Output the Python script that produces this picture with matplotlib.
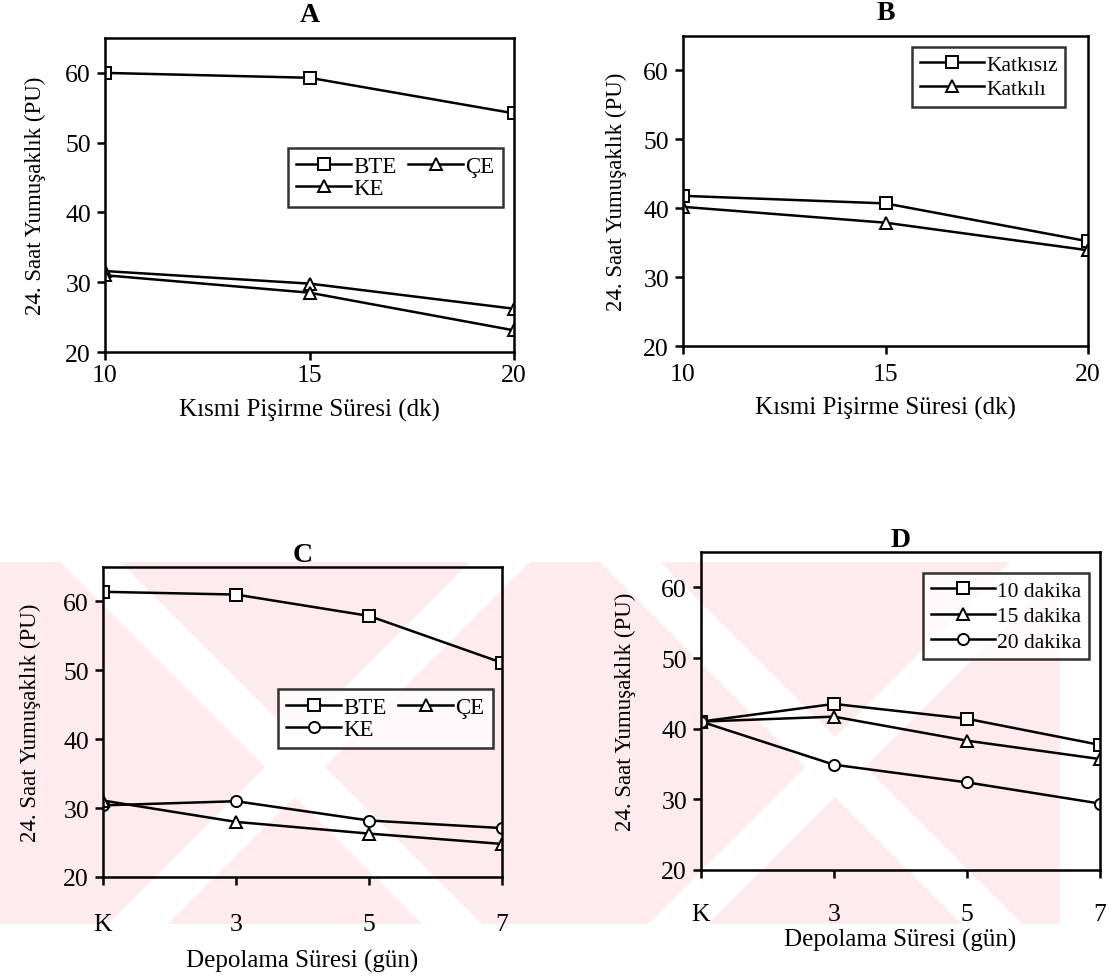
import matplotlib
matplotlib.use("Agg")
import matplotlib.pyplot as plt
from matplotlib.patches import Polygon

plt.rcParams['font.family'] = ['Liberation Serif', 'DejaVu Serif']

# ---- data ----
pisirme = [10, 15, 20]
a_bte = [60.0, 59.3, 54.2]
a_ce = [31.0, 28.5, 23.1]
a_ke = [31.6, 29.8, 26.2]

b_katkisiz = [41.8, 40.7, 35.2]
b_katkili = [40.2, 37.9, 33.9]

depolama = ['K', '3', '5', '7']
c_bte = [61.4, 61.0, 57.9, 51.1]
c_ce = [31.1, 28.0, 26.3, 24.8]
c_ke = [30.4, 31.0, 28.2, 27.1]

d_10 = [41.0, 43.5, 41.4, 37.7]
d_15 = [41.0, 41.7, 38.3, 35.7]
d_20 = [41.0, 34.9, 32.4, 29.4]

ylabel = '24. Saat Yumuşaklık (PU)'
xlabel_ab = 'Kısmi Pişirme Süresi (dk)'
xlabel_cd = 'Depolama Süresi (gün)'

W, H = 1119, 978
fig = plt.figure(figsize=(W / 100, H / 100), dpi=100)


def fr(left, top, right, bottom):
    # pixel box -> figure fraction rect
    return [left / W, 1 - bottom / H, (right - left) / W, (bottom - top) / H]


# faint pink watermark behind the lower row
wm = fig.add_axes(fr(0, 563, 1060, 925), zorder=0)
wm.set_xlim(0, 1060)
wm.set_ylim(925, 563)
wm.axis('off')
wm.add_patch(Polygon([(0, 563), (1060, 563), (1060, 925), (0, 925)],
                     closed=True, facecolor='#fdebee', edgecolor='none'))
for x0 in [60, 600]:
    wm.add_patch(Polygon([(x0, 563), (x0 + 60, 563), (x0 + 60 + 362, 925), (x0 + 362, 925)],
                         closed=True, facecolor='white', edgecolor='none'))
for x0 in [470, 1010]:
    wm.add_patch(Polygon([(x0, 563), (x0 + 60, 563), (x0 + 60 - 362, 925), (x0 - 362, 925)],
                         closed=True, facecolor='white', edgecolor='none'))

lw = 1.8
mk = dict(markersize=8, markerfacecolor='white', markeredgecolor='black', markeredgewidth=1.4)


def setup(ax, title, xlabel, title_pad, tick_pad, xlab_pad, ylab_pad):
    ax.patch.set_alpha(0)
    ax.set_ylim(20, 65)
    ax.set_yticks([20, 30, 40, 50, 60])
    for s in ax.spines.values():
        s.set_linewidth(1.8)
    ax.tick_params(direction='out', length=6, width=1.8, labelsize=18.5)
    ax.tick_params(axis='x', pad=tick_pad)
    ax.tick_params(axis='y', pad=4)
    ax.set_title(title, fontsize=20, fontweight='bold', pad=title_pad)
    ax.set_xlabel(xlabel, fontsize=18, labelpad=xlab_pad)
    ax.set_ylabel(ylabel, fontsize=16.5, labelpad=ylab_pad)


def legend(ax, handles, labels, left, top, ncol=1, hl=2.8, ls=0.15, fs=14.5):
    leg = ax.legend(handles, labels, loc='upper left', ncol=ncol,
                    bbox_to_anchor=(left / W, 1 - top / H), bbox_transform=fig.transFigure,
                    fontsize=fs, handlelength=hl, handletextpad=0.1, borderpad=0.35,
                    labelspacing=ls, columnspacing=0.5, borderaxespad=0,
                    fancybox=False, frameon=True)
    leg.get_frame().set_edgecolor('black')
    leg.get_frame().set_linewidth(1.8)
    return leg


# ---- A ----
axA = fig.add_axes(fr(105, 39, 514, 353), zorder=1)
hA1, = axA.plot(pisirme, a_bte, '-s', color='black', lw=lw, **mk)
hA2, = axA.plot(pisirme, a_ke, '-^', color='black', lw=lw, **mk)
hA3, = axA.plot(pisirme, a_ce, '-^', color='black', lw=lw, **mk)
axA.set_xlim(10, 20)
axA.set_xticks(pisirme)
setup(axA, 'A', xlabel_ab, 12, 3, 8, 14)
legend(axA, [hA1, hA2, hA3], ['BTE', 'KE', 'ÇE'], 288, 149, ncol=2, hl=2.4, ls=0.05, fs=16.5)

# ---- B ----
axB = fig.add_axes(fr(683, 37, 1088, 347), zorder=1)
hB1, = axB.plot(pisirme, b_katkisiz, '-s', color='black', lw=lw, **mk)
hB2, = axB.plot(pisirme, b_katkili, '-^', color='black', lw=lw, **mk)
axB.set_xlim(10, 20)
axB.set_xticks(pisirme)
setup(axB, 'B', xlabel_ab, 12, 6, 8, 12)
legend(axB, [hB1, hB2], ['Katkısız', 'Katkılı'], 912, 48, hl=3.0, ls=0.2, fs=15.5)

# ---- C ----
xc = range(len(depolama))
axC = fig.add_axes(fr(103, 568, 502, 878), zorder=1)
hC1, = axC.plot(xc, c_bte, '-s', color='black', lw=lw, **mk)
hC2, = axC.plot(xc, c_ke, '-o', color='black', lw=lw, **mk)
hC3, = axC.plot(xc, c_ce, '-^', color='black', lw=lw, **mk)
axC.set_xlim(0, 3)
axC.set_xticks(list(xc))
axC.set_xticklabels(depolama)
setup(axC, 'C', xlabel_cd, 2, 20, 10, 16)
legend(axC, [hC1, hC2, hC3], ['BTE', 'KE', 'ÇE'], 278, 690, ncol=2, hl=2.4, ls=0.05, fs=16.5)

# ---- D ----
axD = fig.add_axes(fr(701, 553, 1100, 871), zorder=1)
hD1, = axD.plot(xc, d_10, '-s', color='black', lw=lw, **mk)
hD2, = axD.plot(xc, d_15, '-^', color='black', lw=lw, **mk)
hD3, = axD.plot(xc, d_20, '-o', color='black', lw=lw, **mk)
axD.set_xlim(0, 3)
axD.set_xticks(list(xc))
axD.set_xticklabels(depolama)
setup(axD, 'D', xlabel_cd, 2, 18, 2, 18)
legend(axD, [hD1, hD2, hD3], ['10 dakika', '15 dakika', '20 dakika'], 923, 574, hl=3.0, ls=0.25, fs=15.5)

fig.savefig('out.png', dpi=100)
